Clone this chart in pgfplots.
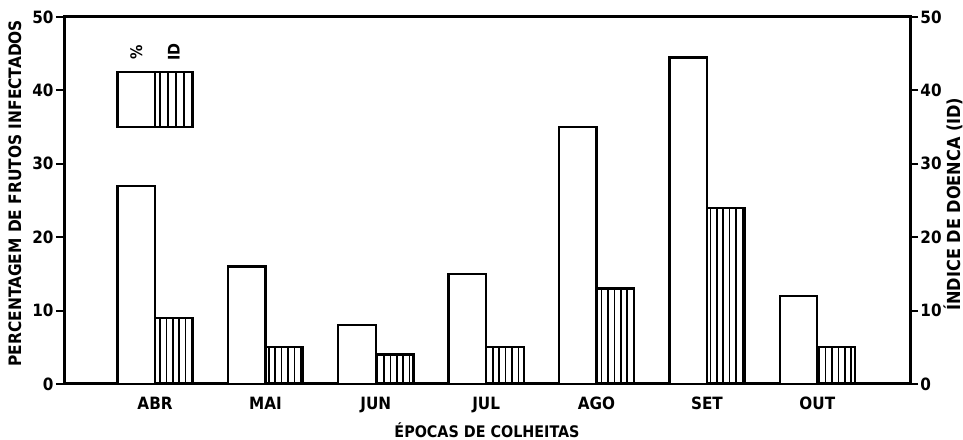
\documentclass[border=0pt]{standalone}
\usepackage{fontspec}
\setmainfont{DejaVu Sans Condensed}[BoldFont={DejaVu Sans Condensed Bold}]
\usepackage{pgfplots}
\pgfplotsset{compat=1.18}
\usetikzlibrary{patterns.meta,calc}
\pgfplotstableread{
x pct id
0 27 9
1 16 5
2 8 4
3 15 5
4 35 13
5 44.5 24
6 12 5
}\datatable
\begin{document}
\begin{tikzpicture}[font=\bfseries\fontsize{8}{9}\selectfont]
\pgfplotsset{
  common/.style={
    scale only axis, width=423bp, height=183.5bp,
    xmin=-0.825, xmax=6.84, ymin=0, ymax=50,
    ytick={0,10,...,50}, tick align=outside, major tick length=4bp,
    y tick style={line width=1bp, black},
    /pgf/number format/assume math mode=true,
    tick label style={font=\bfseries\fontsize{8.5}{10}\selectfont},
    yticklabel style={inner xsep=1bp},
    label style={font=\bfseries\fontsize{8}{9}\selectfont},
    axis line style={line width=1.5bp},
  }
}
\begin{axis}[common,
  xtick={0,...,6}, xticklabels={ABR,MAI,JUN,JUL,AGO,SET,OUT},
  x tick style={draw=none},
  xticklabel style={font=\bfseries\fontsize{8.5}{9}\selectfont, yshift=1bp},
  ytick pos=left,
  xlabel={ÉPOCAS DE COLHEITAS},
  xlabel style={at={(axis description cs:0.5,0)}, anchor=center, yshift=-23bp},
  ylabel={PERCENTAGEM DE FRUTOS INFECTADOS},
  ylabel style={at={(axis description cs:0,0.52)}, anchor=center, yshift=24.5bp, font=\bfseries\fontsize{8.6}{9}\selectfont},
]
\addplot[ybar, bar width=0.34, bar shift=-0.17, draw=black, line width=1.2bp, fill=white] table[x=x,y=pct] {\datatable};
\addplot[ybar, bar width=0.34, bar shift=0.17, draw=black, line width=1.2bp, pattern={Lines[angle=90,distance=3.2bp,line width=0.8bp]}] table[x=x,y=id] {\datatable};
\draw[line width=1.2bp, fill=white] (axis cs:-0.34,35) rectangle (axis cs:0,42.5);
\draw[line width=1.2bp, pattern={Lines[angle=90,distance=4bp,line width=0.8bp]}] (axis cs:0,35) rectangle (axis cs:0.34,42.5);
\node[rotate=90] at (axis cs:-0.17,45.2) {\%};
\node[rotate=90] at (axis cs:0.17,45.2) {ID};
\end{axis}
\begin{axis}[common,
  axis x line=none, axis y line*=right,
  ytick pos=right,
  ylabel={ÍNDICE DE DOENCA (ID)},
  ylabel style={at={(axis description cs:1,0.49)}, anchor=center, yshift=-21.5bp, font=\bfseries\fontsize{9}{9}\selectfont},
]
\addplot[draw=none] coordinates {(0,0)};
\end{axis}
\pgfresetboundingbox
\path[use as bounding box] ($(current axis.south west)+(-32bp,-28bp)$) rectangle ($(current axis.north east)+(26.5bp,8.5bp)$);
\end{tikzpicture}
\end{document}
